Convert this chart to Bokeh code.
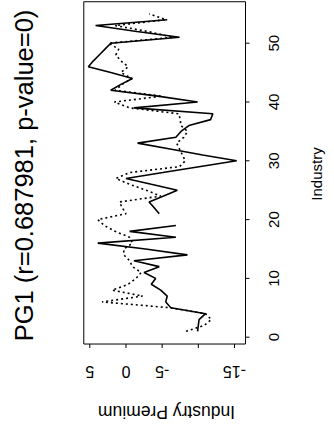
import math
from bokeh.plotting import figure
from bokeh.models import Range1d
from bokeh.core.properties import value
from bokeh.embed import file_html
from bokeh.resources import INLINE

industry = [1, 2, 3, 4, 5, 6, 7, 8, 9, 10, 11, 12, 13, 14, 15, 16, 17, 18, 19, 20,
            21, 22, 23, 24, 25, 26, 27, 28, 29, 30, 31, 32, 33, 34, 35, 36, 37, 38, 39, 40,
            41, 42, 43, 44, 45, 46, 47, 48, 49, 50, 51, 52, 53, 54, 55]

nan = float("nan")
premium_solid = [-9.9, -10.0, -10.1, -11.0, -6.2, -5.5, -5.7, -4.8, -3.5, -4.1,
                 -2.5, -4.6, -1.1, -8.5, -2.7, 3.9, -6.9, -0.5, -6.9, nan,
                 -4.6, -3.9, -3.2, -5.2, -7.1, -3.5, 0.0, -5.1, -10.1, -15.3,
                 -10.6, -6.1, -1.6, -6.9, -7.6, -8.7, -11.7, -12.0, -1.1, -9.9,
                 -4.4, 2.1, 0.7, -0.9, 2.1, 5.2, 4.5, 3.7, 2.9, 2.1,
                 -7.4, -1.5, 4.2, -5.7, nan]

premium_dotted = [-8.3, -10.8, -11.8, -11.0, -6.2, 3.3, -2.3, 1.9, -0.3, -1.4,
                  -2.1, -0.9, -0.5, 0.3, 0.3, -0.9, -0.5, 1.5, 3.0, 3.9,
                  0.0, 0.5, 0.9, -4.8, -2.8, -0.5, 1.4, -0.5, -7.4, -8.2,
                  -7.8, -7.4, -7.0, -8.0, -8.5, -7.6, -7.5, -7.3, -0.5, 1.6,
                  -5.0, 1.5, 0.5, -0.8, 0.7, -0.3, 0.7, 1.4, 1.0, 2.4,
                  -6.5, -3.0, 1.5, -5.5, -3.2]

industry_ticks = [0, 10, 20, 30, 40, 50]
industry_tick_labels = ["0", "10", "20", "30", "40", "50"]
premium_ticks = [5, 0, -5, -10, -15]
premium_tick_labels = ["5", "0", "-5", "", "-15"]

title_text = "PG1 (r=0.687981, p-value=0)"
xlabel_text = "Industry Premium"
ylabel_text = "Industry"
FONT = "Liberation Sans"

# plotting box (data units) -- the chart is drawn rotated by 90 degrees
BOX_PREM = (5.83, -16.52)     # premium: left edge, right edge
BOX_IND = (-1.16, 57.05)      # industry: bottom edge, top edge
PX_PER_PREM = 7.235
PX_PER_IND = 5.88
TICK_PX = 4

p = figure(width=334, height=427, output_backend="svg", toolbar_location=None,
           x_range=Range1d(17.343, -28.822), y_range=Range1d(-15.357, 57.262),
           x_axis_location=None, y_axis_location=None, min_border=0)
p.background_fill_color = "white"
p.border_fill_color = "white"
p.outline_line_color = None
p.grid.visible = False

# box
p.quad(left=[BOX_PREM[0]], right=[BOX_PREM[1]], bottom=[BOX_IND[0]], top=[BOX_IND[1]],
       fill_color=None, line_color="black", line_width=1)

# series
p.line(premium_solid, industry, line_color="black", line_width=1.6)
p.line(premium_dotted, industry, line_color="black", line_width=1.6, line_dash="2 3")

# ticks on the premium axis (bottom)
tb = BOX_IND[0]
p.segment(x0=premium_ticks, y0=[tb] * len(premium_ticks), x1=premium_ticks,
          y1=[tb - TICK_PX / PX_PER_IND] * len(premium_ticks), line_color="black", line_width=1)
# ticks on the industry axis (right)
tr = BOX_PREM[1]
p.segment(x0=[tr] * len(industry_ticks), y0=industry_ticks,
          x1=[tr - TICK_PX / PX_PER_PREM] * len(industry_ticks), y1=industry_ticks,
          line_color="black", line_width=1)

lab_x = [v for v, t in zip(premium_ticks, premium_tick_labels) if t]
lab_t = [t for t in premium_tick_labels if t]
p.text(x=lab_x, y=[-6.00] * len(lab_x), text=lab_t, angle=math.pi,
       text_align="center", text_baseline="middle",
       text_font=value(FONT), text_font_size="16px", text_color="black")
p.text(x=[-20.46] * len(industry_ticks), y=industry_ticks, text=industry_tick_labels,
       angle=math.pi / 2, text_align="center", text_baseline="middle",
       text_font=value(FONT), text_font_size="15px", text_color="black")

p.text(x=[-5.60], y=[-12.64], text=[xlabel_text], angle=math.pi,
       text_align="center", text_baseline="middle",
       text_font=value(FONT), text_font_size="17.5px", text_color="black")
p.text(x=[-26.34], y=[27.76], text=[ylabel_text], angle=math.pi / 2,
       text_align="center", text_baseline="middle",
       text_font=value(FONT), text_font_size="15px", text_color="black")
p.text(x=[14.16], y=[27.50], text=[title_text], angle=math.pi / 2,
       text_align="center", text_baseline="middle",
       text_font=value(FONT), text_font_size="25.5px", text_color="black")

open("out.html", "w").write(file_html(p, INLINE))
